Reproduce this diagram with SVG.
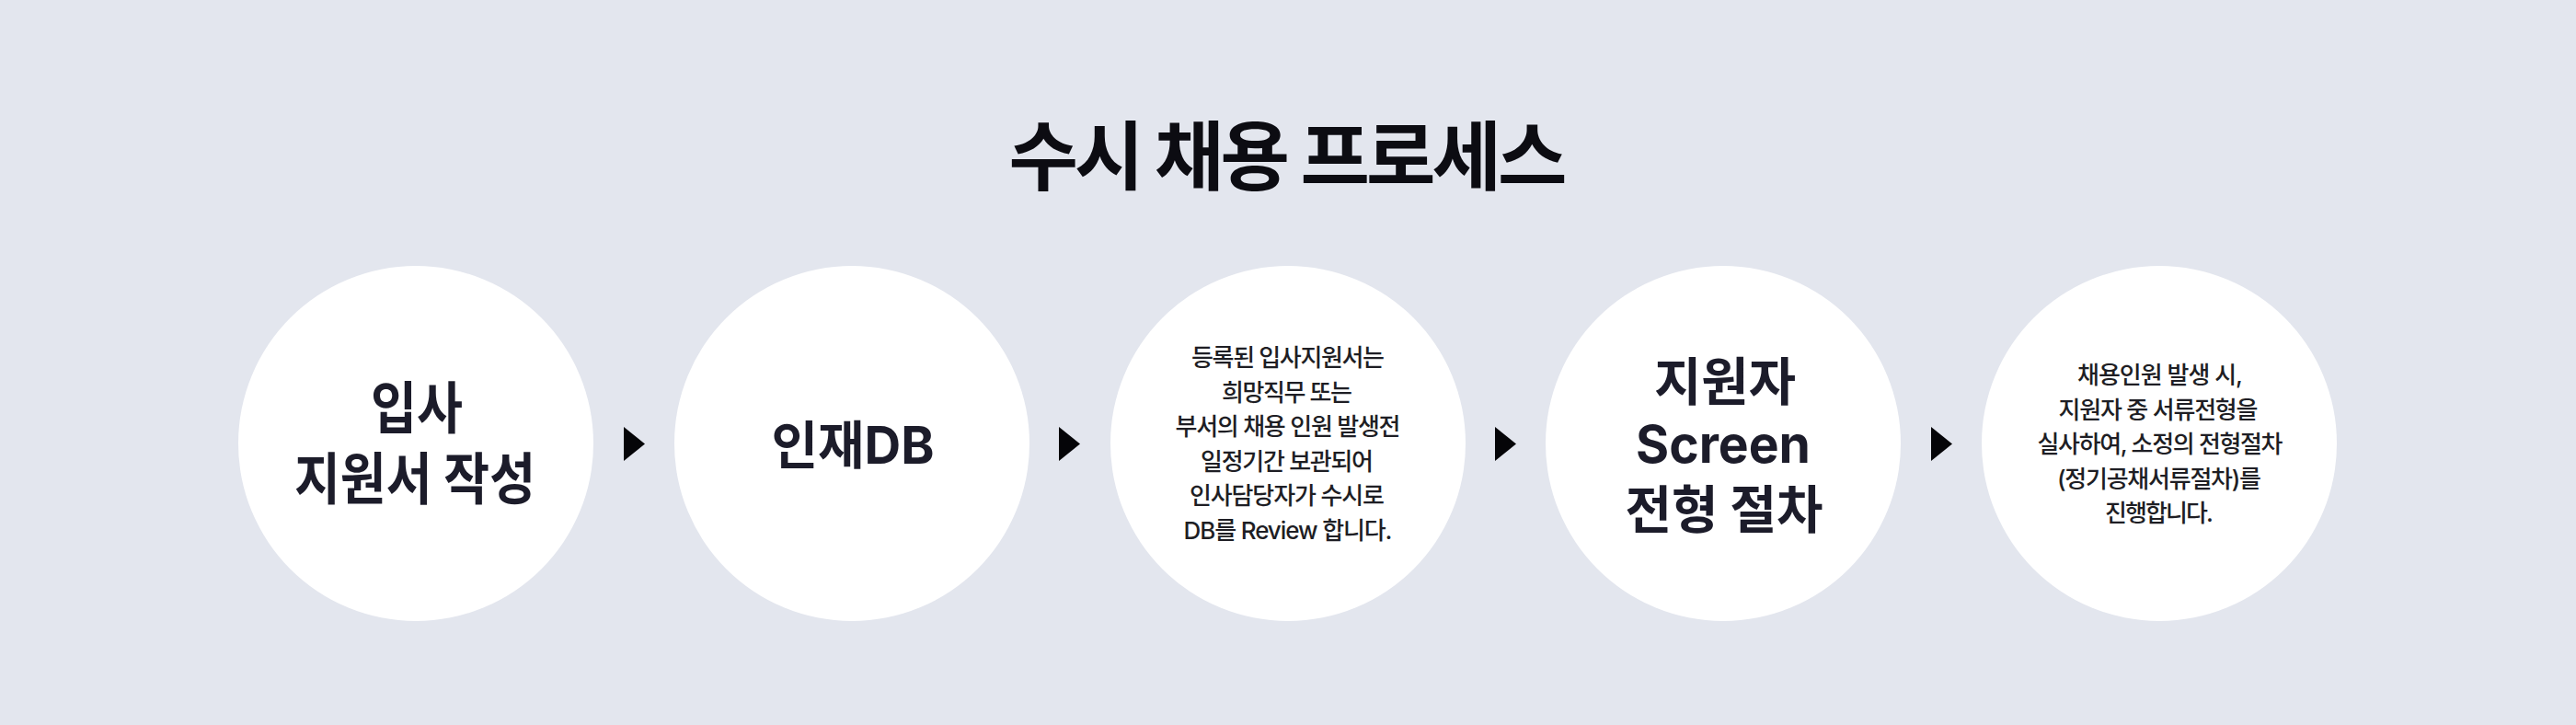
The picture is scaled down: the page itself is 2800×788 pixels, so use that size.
<svg xmlns="http://www.w3.org/2000/svg" width="2800" height="788" viewBox="0 0 2800 788">
<style>
.bg{fill:#e3e6ee}
.node circle{fill:#ffffff}
text{font-family:"Inter","Noto Sans CJK KR","Noto Sans",sans-serif;text-anchor:middle}
.title{font-size:82px;font-weight:700;fill:#0c0c12}
.big{font-size:61px;font-weight:700;fill:#1c1c2a}
.mid{font-size:56px;font-weight:700;fill:#1c1c2a}
.small{font-size:26px;font-weight:500;fill:#1e1e24}
.arrow{fill:#050508}
</style>
<rect class="bg" x="0" y="0" width="2800" height="788"/>
<text class="title" x="1400" y="200" textLength="607">수시 채용 프로세스</text>
<g id="node1" class="node">
<circle cx="452" cy="482" r="193"/>
<text class="big" x="453" y="466" textLength="100" lengthAdjust="spacingAndGlyphs">입사</text>
<text class="big" x="451" y="543" textLength="262" lengthAdjust="spacingAndGlyphs">지원서 작성</text>
</g>
<g id="node2" class="node">
<circle cx="926" cy="482" r="193"/>
<text class="mid" x="927" y="504" textLength="177" lengthAdjust="spacingAndGlyphs">인재DB</text>
</g>
<g id="node3" class="node">
<circle cx="1400" cy="482" r="193"/>
<text class="small" x="1400" y="398" textLength="210">등록된 입사지원서는</text>
<text class="small" x="1399" y="436" textLength="142">희망직무 또는</text>
<text class="small" x="1400" y="473" textLength="245">부서의 채용 인원 발생전</text>
<text class="small" x="1399" y="511" textLength="188">일정기간 보관되어</text>
<text class="small" x="1399" y="548" textLength="212">인사담당자가 수시로</text>
<text class="small" x="1400" y="586" textLength="227">DB를 Review 합니다.</text>
</g>
<g id="node4" class="node">
<circle cx="1873" cy="482" r="193"/>
<text class="mid" x="1875" y="435" textLength="154" lengthAdjust="spacingAndGlyphs">지원자</text>
<text class="mid" x="1873" y="503" textLength="190" lengthAdjust="spacingAndGlyphs">Screen</text>
<text class="mid" x="1874" y="574" textLength="215" lengthAdjust="spacingAndGlyphs">전형 절차</text>
</g>
<g id="node5" class="node">
<circle cx="2347" cy="482" r="193"/>
<text class="small" x="2348" y="417" textLength="180">채용인원 발생 시,</text>
<text class="small" x="2346" y="455" textLength="217">지원자 중 서류전형을</text>
<text class="small" x="2348" y="492" textLength="267">실사하여, 소정의 전형절차</text>
<text class="small" x="2347" y="530" textLength="222">(정기공채서류절차)를</text>
<text class="small" x="2347" y="567" textLength="118">진행합니다.</text>
</g>
<g id="connectors">
<polygon class="arrow" points="678,464 701,482.5 678,501"/>
<polygon class="arrow" points="1151,464 1174,482.5 1151,501"/>
<polygon class="arrow" points="1625,464 1648,482.5 1625,501"/>
<polygon class="arrow" points="2099,464 2122,482.5 2099,501"/>
</g>
</svg>
